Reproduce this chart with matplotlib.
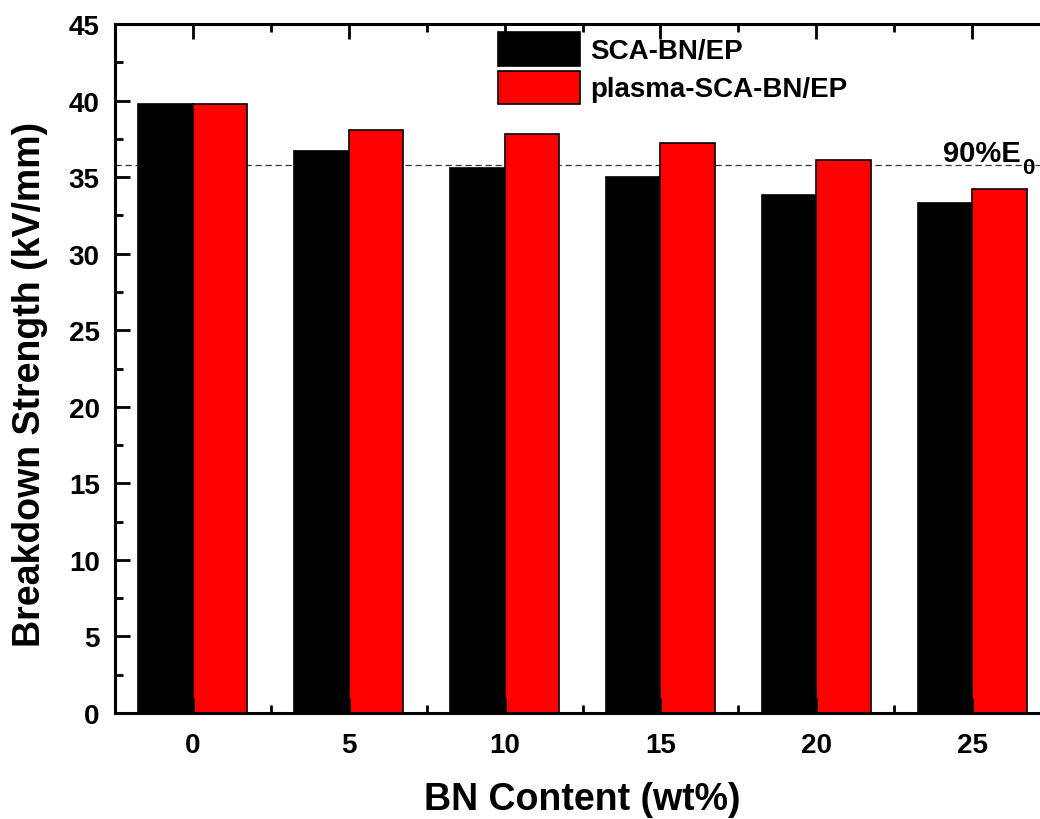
import numpy as np
import matplotlib
matplotlib.use('Agg')
import matplotlib.pyplot as plt
from matplotlib.ticker import MultipleLocator

plt.rcParams['font.family'] = ['Liberation Sans', 'DejaVu Sans']
plt.rcParams['font.weight'] = 'bold'

# BN loading (wt%) and breakdown strength (kV/mm)
bn_content = [0, 5, 10, 15, 20, 25]
sca_bn_ep = [39.8, 36.7, 35.6, 35.0, 33.8, 33.3]
plasma_sca_bn_ep = [39.8, 38.1, 37.8, 37.2, 36.1, 34.2]
e0 = sca_bn_ep[0]

x = np.array(bn_content, dtype=float)
w = 1.75

fig = plt.figure(figsize=(10.4, 8.2), dpi=100)
ax = fig.add_axes([115 / 1040, 1 - 714 / 820, 935 / 1040, 689 / 820])

b1 = ax.bar(x - w / 2, sca_bn_ep, width=w, color='black', edgecolor='black', linewidth=1.2)
b2 = ax.bar(x + w / 2, plasma_sca_bn_ep, width=w, color='#ff0000', edgecolor='black', linewidth=1.2)

# 90% of the unfilled value
ax.axhline(0.9 * e0, color='#333333', linestyle=(0, (5, 3)), linewidth=0.9, zorder=0.5)
ax.text(24.07, 36.05, '90%E', fontsize=21, fontweight='bold', va='baseline', ha='left')
ax.text(26.6, 35.3, '0', fontsize=16, fontweight='bold', va='baseline', ha='left')

ax.set_xlim(-2.5, 27.5)
ax.set_ylim(0, 45)
ax.set_xticks(bn_content)
ax.xaxis.set_minor_locator(MultipleLocator(2.5))
ax.yaxis.set_major_locator(MultipleLocator(5))
ax.yaxis.set_minor_locator(MultipleLocator(2.5))

ax.tick_params(which='both', direction='in', top=True, right=False, width=2)
ax.tick_params(which='major', length=11, labelsize=20)
ax.tick_params(which='minor', length=6)
ax.tick_params(axis='x', which='major', pad=14)
ax.tick_params(axis='y', which='major', pad=11)
for lab in ax.get_xticklabels() + ax.get_yticklabels():
    lab.set_fontweight('bold')
for s in ax.spines.values():
    s.set_linewidth(2.2)

ax.set_xlabel('BN Content (wt%)', fontsize=27, fontweight='bold', labelpad=16)
ax.set_ylabel('Breakdown Strength (kV/mm)', fontsize=27, fontweight='bold')
ax.yaxis.set_label_coords(-0.072, 0.479)

ax.legend([b1, b2], ['SCA-BN/EP', 'plasma-SCA-BN/EP'], loc='upper left',
          bbox_to_anchor=(498 / 1040, 1 - 33 / 820), bbox_transform=fig.transFigure,
          frameon=False, handlelength=2.95, handleheight=1.48,
          labelspacing=0.18, handletextpad=0.36, borderpad=0, borderaxespad=0,
          prop={'weight': 'bold', 'size': 20})

fig.savefig('out.png', dpi=100)
